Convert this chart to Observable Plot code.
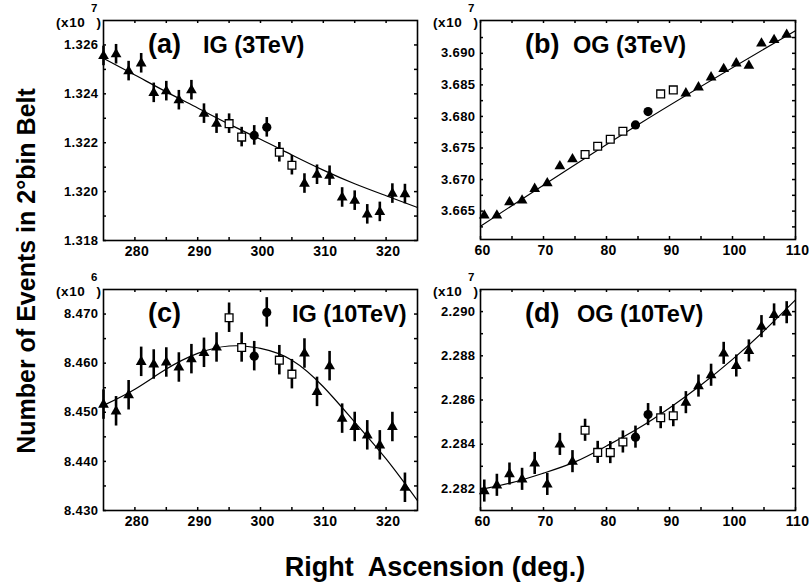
<!DOCTYPE html>
<html><head><meta charset="utf-8">
<script src="https://cdn.jsdelivr.net/npm/d3@7"></script>
<script src="https://cdn.jsdelivr.net/npm/@observablehq/plot@0.6"></script>
<style>
body{margin:0;background:#fff;}
#wrap{position:relative;width:809px;height:588px;font-family:"Liberation Sans",Arial,sans-serif;overflow:hidden;}
#wrap svg{position:absolute;overflow:visible;}
#wrap svg text{font-weight:700;}
#wrap g[aria-label="y-axis tick label"]{letter-spacing:0.4px;}
#wrap g[aria-label="x-axis tick label"]{letter-spacing:0.3px;}
</style></head><body><div id="wrap"></div>
<script>
// ---------- data ----------
const IG_RA = [275,277,279,281,283,285,287,289,291,293,295,297,299,301,303,305,307,309,311,313,315,317,319,321,323];
const OG_RA = [60.6,62.6,64.6,66.6,68.6,70.6,72.6,74.6,76.6,78.6,80.6,82.6,84.6,86.6,88.6,90.6,92.6,94.6,96.6,98.6,100.6,102.6,104.6,106.6,108.6];
const IG_SYMBOL = ["tri","tri","tri","tri","tri","tri","tri","tri","tri","tri","sq","sq","circ","circ","sq","sq","tri","tri","tri","tri","tri","tri","tri","tri","tri"];
const OG_SYMBOL = ["tri","tri","tri","tri","tri","tri","tri","tri","sq","sq","sq","sq","circ","circ","sq","sq","tri","tri","tri","tri","tri","tri","tri","tri","tri"];

const IG3 = [1.32555,1.32562,1.32493,1.32525,1.32404,1.32411,1.32374,1.32415,1.32319,1.32278,1.32278,1.32223,1.32230,1.32263,1.32161,1.32108,1.32033,1.32069,1.32065,1.31976,1.31963,1.31907,1.31917,1.31992,1.31990];
const OG3 = [3.66431,3.66431,3.66642,3.66669,3.66853,3.66943,3.67212,3.67323,3.67397,3.67528,3.67639,3.67766,3.67866,3.68077,3.68357,3.68420,3.68367,3.68462,3.68620,3.68752,3.68842,3.68805,3.69158,3.69211,3.69295];
const IG10 = [8.45157,8.45020,8.45347,8.46027,8.45973,8.46014,8.45912,8.46082,8.46211,8.46320,8.46925,8.46320,8.46143,8.47034,8.46061,8.45776,8.46197,8.45415,8.45939,8.44871,8.44701,8.44531,8.44327,8.44700,8.43463];
const OG10 = [2.28188,2.28214,2.28265,2.28241,2.28313,2.28218,2.28399,2.28321,2.28463,2.28363,2.28362,2.28410,2.28432,2.28534,2.28520,2.28529,2.28588,2.28663,2.28712,2.28811,2.28754,2.28822,2.28932,2.28985,2.28995];
const ERR_IG3 = 0.0004, ERR_OG3 = 0.0002, ERR_IG10 = 0.003, ERR_OG10 = 0.0005;

const FIT_IG_X = [275,280,285,290,295,300,305,310,315,320,325];
const FIT_IG3_Y = [1.32545,1.32477,1.32408,1.32342,1.32276,1.32214,1.32150,1.32088,1.32032,1.31983,1.31935];
const FIT_IG10_Y = [8.4514,8.4547,8.4588,8.4620,8.4635,8.4630,8.4606,8.4552,8.4480,8.4405,8.4320];
const FIT_OG3_X = [60,85,110];
const FIT_OG3_Y = [3.6626,3.6787,3.6936];
const FIT_OG10_X = [60,65,70,75,80,85,90,95,100,105,110];
const FIT_OG10_Y = [2.28195,2.28226,2.28269,2.28320,2.28392,2.28471,2.28564,2.28668,2.28784,2.28913,2.29053];

const IG_XTICKS = [280,290,300,310,320];
const IG_XMINOR = [285,295,305,315];
const OG_XTICKS = [60,70,80,90,100,110];
const OG_XMINOR = [65,75,85,95,105];
const YT_IG3 = [1.318,1.320,1.322,1.324,1.326], YM_IG3 = [1.319,1.321,1.323,1.325];
const YT_OG3 = [3.665,3.670,3.675,3.680,3.685,3.690], YM_OG3 = [3.6625,3.6675,3.6725,3.6775,3.6825,3.6875,3.6925];
const YT_IG10 = [8.430,8.440,8.450,8.460,8.470], YM_IG10 = [8.435,8.445,8.455,8.465];
const YT_OG10 = [2.282,2.284,2.286,2.288,2.290], YM_OG10 = [2.283,2.285,2.287,2.289];

const TAGS = ["(a)","(b)","(c)","(d)"];
const NAMES = ["IG (3TeV)","OG (3TeV)","IG (10TeV)","OG (10TeV)"];
const EXPONENTS = ["7","7","6","7"];
const Y_TITLE = "Number of Events in 2°bin Belt";
const X_TITLE = "Right  Ascension (deg.)";

// ---------- drawing ----------
const wrap = document.getElementById("wrap");
const mL = 60, mR = 20, mT = 10, mB = 30;

function panel(cfg) {
  const {left, top, fw, fh, xDomain, yDomain, xTicks, xMinor, yTicks, yMinor, xs, ys, err, syms, fitX, fitY} = cfg;
  const pts = xs.map((x, i) => ({x, y: ys[i], e: err, s: syms[i]}));
  const fit = fitX.map((x, i) => ({x, y: fitY[i]}));
  const xAll = xTicks.concat(xMinor), yAll = yTicks.concat(yMinor);
  const svg = Plot.plot({
    width: fw + mL + mR, height: fh + mT + mB,
    marginLeft: mL, marginRight: mR, marginTop: mT, marginBottom: mB,
    style: {fontFamily: '"Liberation Sans", Arial, sans-serif', background: "transparent", color: "black"},
    x: {domain: xDomain},
    y: {domain: yDomain},
    marks: [
      Plot.tickX(xAll, {x: d => d, insetTop: fh - 3, strokeWidth: 1.5}),
      Plot.tickX(xAll, {x: d => d, insetBottom: fh - 3, strokeWidth: 1.5}),
      Plot.tickY(yAll, {y: d => d, insetRight: fw - 3, strokeWidth: 1.5}),
      Plot.tickY(yAll, {y: d => d, insetLeft: fw - 3, strokeWidth: 1.5}),
      Plot.axisX(xTicks, {tickSize: 0, tickPadding: 6, fontSize: 14, fontWeight: "bold", dx: 2, label: null}),
      Plot.axisY(yTicks, {tickSize: 0, tickPadding: 5, fontSize: 13, fontWeight: "bold", tickFormat: d3.format(".3f"), label: null}),
      Plot.line(fit, {x: "x", y: "y", curve: "natural", stroke: "black", strokeWidth: 1.2}),
      Plot.ruleX(pts, {x: "x", y1: d => d.y - d.e, y2: d => d.y + d.e, stroke: "black", strokeWidth: 2.6}),
      Plot.dot(pts.filter(d => d.s === "tri"), {x: "x", y: "y", symbol: "triangle", r: 4, fill: "black", stroke: null}),
      Plot.dot(pts.filter(d => d.s === "sq"), {x: "x", y: "y", symbol: "square", r: 4.4, fill: "white", stroke: "black", strokeWidth: 1.3}),
      Plot.dot(pts.filter(d => d.s === "circ"), {x: "x", y: "y", symbol: "circle", r: 4.6, fill: "black", stroke: null}),
      Plot.frame({stroke: "black", strokeWidth: 1.6})
    ]
  });
  svg.style.left = (left - mL) + "px";
  svg.style.top = (top - mT) + "px";
  wrap.appendChild(svg);
}

const geo = [
  {left: 103, top: 20, fw: 314, fh: 220},
  {left: 480, top: 20, fw: 315, fh: 219},
  {left: 103, top: 289, fw: 314, fh: 221},
  {left: 480, top: 289, fw: 315, fh: 221}
];

panel({...geo[0], xDomain: [275, 325], yDomain: [1.318, 1.327], xTicks: IG_XTICKS, xMinor: IG_XMINOR, yTicks: YT_IG3, yMinor: YM_IG3,
  xs: IG_RA, ys: IG3, err: ERR_IG3, syms: IG_SYMBOL, fitX: FIT_IG_X, fitY: FIT_IG3_Y});
panel({...geo[1], xDomain: [60, 110], yDomain: [3.6605, 3.6952], xTicks: OG_XTICKS, xMinor: OG_XMINOR, yTicks: YT_OG3, yMinor: YM_OG3,
  xs: OG_RA, ys: OG3, err: ERR_OG3, syms: OG_SYMBOL, fitX: FIT_OG3_X, fitY: FIT_OG3_Y});
panel({...geo[2], xDomain: [275, 325], yDomain: [8.430, 8.475], xTicks: IG_XTICKS, xMinor: IG_XMINOR, yTicks: YT_IG10, yMinor: YM_IG10,
  xs: IG_RA, ys: IG10, err: ERR_IG10, syms: IG_SYMBOL, fitX: FIT_IG_X, fitY: FIT_IG10_Y});
panel({...geo[3], xDomain: [60, 110], yDomain: [2.281, 2.291], xTicks: OG_XTICKS, xMinor: OG_XMINOR, yTicks: YT_OG10, yMinor: YM_OG10,
  xs: OG_RA, ys: OG10, err: ERR_OG10, syms: OG_SYMBOL, fitX: FIT_OG10_X, fitY: FIT_OG10_Y});

// ---------- annotations ----------
const ov = d3.select(wrap).append("svg")
  .attr("width", 809).attr("height", 588)
  .style("left", "0px").style("top", "0px")
  .attr("font-family", '"Liberation Sans", Arial, sans-serif');

const nameDx = [100, 93, 189, 97];
geo.forEach((g, i) => {
  ov.append("text").attr("x", g.left + 45).attr("y", g.top + 33).attr("font-size", 27).text(TAGS[i]);
  ov.append("text").attr("x", g.left + nameDx[i]).attr("y", g.top + 33).attr("font-size", 23.5).text(NAMES[i]);
  ov.append("text").attr("x", g.left - 47).attr("y", g.top + 7).attr("font-size", 13.5).attr("letter-spacing", "0.6px").text("(x10");
  ov.append("text").attr("x", g.left - 12).attr("y", g.top - 8).attr("font-size", 11.5).text(EXPONENTS[i]);
  ov.append("text").attr("x", g.left - 6.5).attr("y", g.top + 7).attr("font-size", 13.5).text(")");
});

ov.append("text").attr("transform", "translate(35,271) rotate(-90)")
  .attr("text-anchor", "middle").attr("font-size", 25).text(Y_TITLE);
ov.append("text").attr("x", 435).attr("y", 576).style("white-space", "pre")
  .attr("text-anchor", "middle").attr("font-size", 27).text(X_TITLE);
</script></body></html>
